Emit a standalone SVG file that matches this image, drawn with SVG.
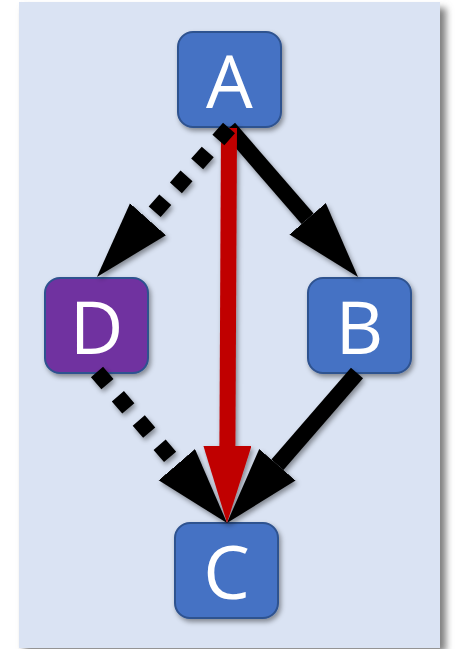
<svg xmlns="http://www.w3.org/2000/svg" width="457" height="649" viewBox="0 0 457 649">
  <defs>
    <style>
      .node { stroke: #2F528F; stroke-width: 2; }
      .blue { fill: #4472C4; }
      .purple { fill: #7030A0; }
      .label { font-family: "Open Sans", "Noto Sans", "DejaVu Sans", sans-serif; font-size: 74px; fill: #FFFFFF; text-anchor: middle; }
      .edge { fill: none; stroke-width: 16; stroke-linecap: butt; }
      .black { stroke: #000000; }
      .red { stroke: #C00000; }
      .dotted { stroke-dasharray: 16 16; }
    </style>
    <filter id="shadow" x="-30%" y="-30%" width="160%" height="160%">
      <feDropShadow dx="2" dy="3" stdDeviation="2.5" flood-color="#000000" flood-opacity="0.4"/>
    </filter>
    <filter id="panelShadow" x="-5%" y="-5%" width="110%" height="110%">
      <feGaussianBlur stdDeviation="3.5"/>
    </filter>
    <marker id="headBlack" markerUnits="userSpaceOnUse" markerWidth="80" markerHeight="50" viewBox="0 0 80 50" refX="0" refY="24" orient="auto">
      <path d="M0,0 L77,24 L0,48 Z" fill="#000000"/>
    </marker>
    <marker id="headRed" markerUnits="userSpaceOnUse" markerWidth="80" markerHeight="50" viewBox="0 0 80 50" refX="0" refY="24" orient="auto">
      <path d="M0,0 L77,24 L0,48 Z" fill="#C00000"/>
    </marker>
  </defs>

  <rect x="24" y="8" width="422" height="644" fill="#7F7F7F" filter="url(#panelShadow)"/>
  <rect x="19" y="2" width="421" height="646" fill="#DAE3F3"/>

  <g id="nodeA" filter="url(#shadow)">
    <rect class="node blue" x="178" y="32" width="103" height="95" rx="15"/>
    <text class="label" x="229.5" y="108">A</text>
  </g>
  <g id="nodeD" filter="url(#shadow)">
    <rect class="node purple" x="45" y="278" width="103" height="95" rx="15"/>
    <text class="label" x="96.5" y="354">D</text>
  </g>
  <g id="nodeB" filter="url(#shadow)">
    <rect class="node blue" x="308" y="278" width="103" height="95" rx="15"/>
    <text class="label" x="359.5" y="354">B</text>
  </g>
  <g id="nodeC" filter="url(#shadow)">
    <rect class="node blue" x="175" y="523" width="103" height="95" rx="15"/>
    <text class="label" x="226.5" y="599">C</text>
  </g>

  <g id="connectors" filter="url(#shadow)">
    <line id="edgeAB" class="edge black" x1="229" y1="128" x2="307.6" y2="218.8" marker-end="url(#headBlack)"/>
    <line id="edgeDC" class="edge black dotted" x1="97" y1="372" x2="176.8" y2="464.7" marker-end="url(#headBlack)"/>
    <line id="edgeBC" class="edge black" x1="357" y1="373" x2="277.4" y2="464.8" marker-end="url(#headBlack)"/>
    <line id="edgeAC" class="edge red" x1="229" y1="128" x2="227.4" y2="446" marker-end="url(#headRed)"/>
    <line id="edgeAD" class="edge black dotted" x1="229" y1="128" x2="148" y2="219.3" marker-end="url(#headBlack)"/>
  </g>
</svg>
